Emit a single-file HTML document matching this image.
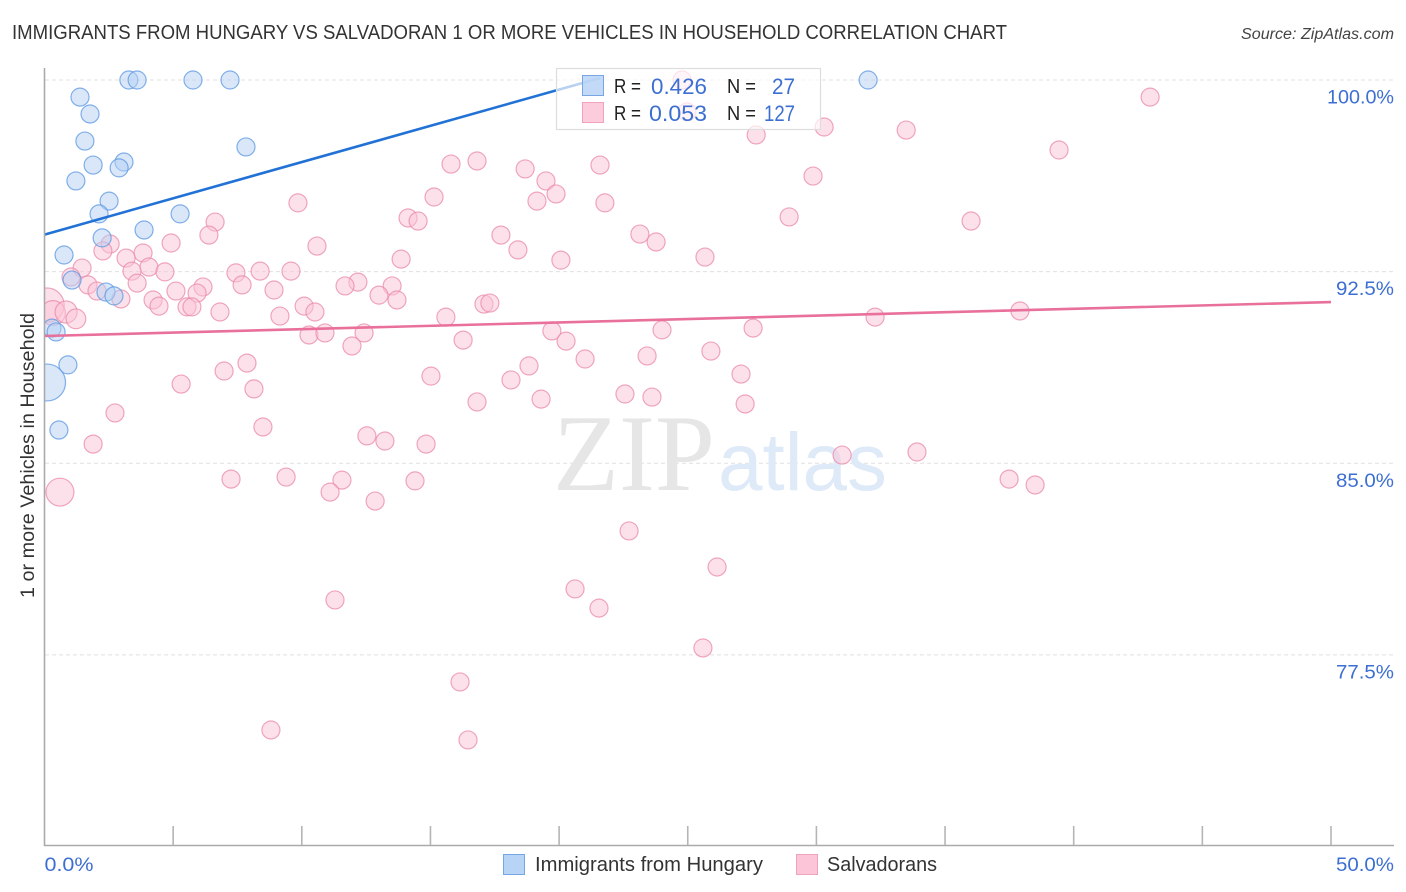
<!DOCTYPE html>
<html lang="en">
<head>
<meta charset="utf-8">
<title>Immigrants from Hungary vs Salvadoran 1 or More Vehicles in Household Correlation Chart</title>
<style>
html,body{margin:0;padding:0;background:#fff;width:1406px;height:892px;overflow:hidden}
svg{display:block;font-family:"Liberation Sans",sans-serif}
</style>
</head>
<body>
<svg id="chart" width="1406" height="892" viewBox="0 0 1406 892" xmlns="http://www.w3.org/2000/svg">
  <defs>
    <clipPath id="plot-clip"><rect x="45" y="60" width="1350" height="785"/></clipPath>
  </defs>
  <text x="12" y="39" font-size="20" fill="#333" textLength="995" lengthAdjust="spacingAndGlyphs">IMMIGRANTS FROM HUNGARY VS SALVADORAN 1 OR MORE VEHICLES IN HOUSEHOLD CORRELATION CHART</text>
  <text x="1241" y="39" font-size="15.5" font-style="italic" fill="#444" textLength="153" lengthAdjust="spacingAndGlyphs">Source: ZipAtlas.com</text>

  <g id="grid"></g>

  <g>
    <text x="553" y="490" font-family="'Liberation Serif',serif" font-size="109" fill="#e6e6e6" textLength="162" lengthAdjust="spacingAndGlyphs">ZIP</text>
    <text x="718" y="490" font-family="'Liberation Sans',sans-serif" font-size="82" fill="#dfeaf8" textLength="169" lengthAdjust="spacingAndGlyphs">atlas</text>
  </g>

  <g id="points-salvadoran" clip-path="url(#plot-clip)"></g>
  <g id="points-hungary" clip-path="url(#plot-clip)"></g>
  <g id="trends"></g>

  <g id="axes">
    <line x1="44.5" y1="68" x2="44.5" y2="846" stroke="#aaa" stroke-width="1.6"/>
    <line x1="44" y1="845.5" x2="1394" y2="845.5" stroke="#aaa" stroke-width="1.6"/>
  </g>
  <g id="x-ticks"></g>
  <g id="y-labels"></g>

  <text transform="translate(34,598) rotate(-90)" font-size="19.5" fill="#333" textLength="285" lengthAdjust="spacingAndGlyphs">1 or more Vehicles in Household</text>

  <g>
    <rect x="556.5" y="68.5" width="264" height="61" fill="#fff" fill-opacity="0.68" stroke="#ddd" stroke-width="1.2"/>
    <rect x="582.5" y="75.5" width="21" height="20" fill="#b7d3f6" fill-opacity="0.85" stroke="#76a6e4" stroke-width="1"/>
    <rect x="582.5" y="102.5" width="21" height="20" fill="#fcc6d8" fill-opacity="0.9" stroke="#f0a2bb" stroke-width="1"/>
    <g font-size="20.5" fill="#222">
      <text x="614" y="93" textLength="27" lengthAdjust="spacingAndGlyphs">R =</text>
      <text x="727" y="93" textLength="29" lengthAdjust="spacingAndGlyphs">N =</text>
      <text x="614" y="120" textLength="27" lengthAdjust="spacingAndGlyphs">R =</text>
      <text x="727" y="120" textLength="29" lengthAdjust="spacingAndGlyphs">N =</text>
    </g>
    <g font-size="22" fill="#3c6fd1">
      <text x="651" y="94" textLength="56" lengthAdjust="spacingAndGlyphs">0.426</text>
      <text x="772" y="94" textLength="23" lengthAdjust="spacingAndGlyphs">27</text>
      <text x="649" y="121" textLength="58" lengthAdjust="spacingAndGlyphs">0.053</text>
      <text x="764" y="121" textLength="31" lengthAdjust="spacingAndGlyphs">127</text>
    </g>
  </g>

  <g>
    <rect x="503.5" y="854.5" width="21" height="20" fill="#b7d3f6" stroke="#76a6e4" stroke-width="1"/>
    <text x="535" y="871" font-size="20" fill="#333" textLength="228" lengthAdjust="spacingAndGlyphs">Immigrants from Hungary</text>
    <rect x="796.5" y="854.5" width="21" height="20" fill="#fcc6d8" stroke="#f0a2bb" stroke-width="1"/>
    <text x="827" y="871" font-size="20" fill="#333" textLength="110" lengthAdjust="spacingAndGlyphs">Salvadorans</text>
  </g>
</svg>
<script>
var yGridValues = [100, 92.5, 85, 77.5];
var yTickLabels = ["100.0%", "92.5%", "85.0%", "77.5%"];
var xTickValues = [5, 10, 15, 20, 25, 30, 35, 40, 45, 50];
var xEndValues = [0, 50];
var xEndLabels = ["0.0%", "50.0%"];

var hungaryX = [0.10,3.28,3.60,5.77,7.21,32.01,1.38,1.77,1.57,7.83,1.89,3.09,2.90,1.22,2.51,2.12,5.27,3.87,2.24,0.76,1.07,2.39,2.70,0.29,0.45,0.91,0.56];
var hungaryY = [88.16,100,100,100,100,100,99.33,98.67,97.61,97.38,96.67,96.79,96.56,96.05,95.26,94.76,94.76,94.13,93.82,93.15,92.17,91.70,91.55,90.29,90.14,88.85,86.30];
var hungaryWeights = [4.2];

var salvadoranX = [0.10,0.33,0.84,1.22,0.60,42.97,30.30,33.49,27.66,39.43,15.80,16.81,21.59,18.68,29.87,19.49,19.88,19.14,15.14,9.85,21.78,28.94,36.01,14.13,14.52,6.63,6.39,23.14,17.74,23.77,4.92,10.59,2.55,2.27,18.40,3.83,25.67,20.07,13.86,3.17,1.46,4.06,3.40,4.68,7.44,8.38,9.58,1.03,3.60,1.69,7.68,6.16,2.04,5.11,8.92,12.18,11.68,13.51,13.00,13.70,5.93,2.97,4.22,4.45,5.54,5.73,10.09,10.51,6.82,9.15,17.08,17.31,15.60,37.91,32.28,24.00,27.54,19.72,12.42,10.28,10.90,20.27,11.95,16.27,25.90,23.42,21.01,7.87,6.98,18.83,15.02,27.07,18.13,5.31,8.14,22.56,23.61,19.30,16.81,27.23,2.74,8.49,12.53,13.23,14.83,1.89,31.00,33.91,7.25,9.39,11.56,14.40,11.10,12.85,37.49,38.50,22.72,26.14,20.62,21.55,11.29,25.59,16.15,8.80,16.46,24.78,24.97];
var salvadoranY = [91.19,90.88,90.92,90.65,83.87,99.33,98.16,98.04,97.85,97.26,96.71,96.83,96.67,96.52,96.24,96.05,95.54,95.26,95.42,95.19,95.19,94.64,94.48,94.60,94.48,94.44,93.93,93.97,93.93,93.66,93.62,93.50,93.58,93.31,93.35,93.23,93.07,92.95,92.99,93.03,92.64,92.68,92.52,92.49,92.45,92.52,92.52,92.29,92.05,91.98,91.98,91.90,91.74,91.74,91.78,92.09,91.94,91.94,91.58,91.39,91.66,91.43,91.39,91.15,91.12,91.12,91.15,90.92,90.92,90.76,91.23,91.27,90.72,90.96,90.72,90.22,90.29,90.18,90.10,90.02,90.10,89.78,89.59,89.82,89.39,89.20,89.08,88.92,88.61,88.81,88.41,88.49,88.26,88.10,87.91,87.71,87.59,87.51,87.40,87.32,86.97,86.42,86.07,85.87,85.75,85.75,85.32,85.44,84.38,84.46,84.34,84.31,83.87,83.52,84.38,84.15,82.35,80.94,80.08,79.33,79.65,77.77,76.44,74.56,74.17,100,98.75];
var salvadoranWeights = [3.6,1.9,1.5,1.2,2.4];

var hungaryTrendX = [0, 21.6];
var hungaryTrendY = [93.95, 100.08];
var salvadoranTrendX = [0, 50];
var salvadoranTrendY = [89.98, 91.31];

var SVGNS = "http://www.w3.org/2000/svg";
function xScale(v) { return 44.5 + v * 25.73; }
function yScale(v) { return 80 + (100 - v) * 25.55; }
function labelWidth(text) { return text.length * 9 + 13; }
function make(tag, attrs) {
  var el = document.createElementNS(SVGNS, tag);
  for (var k in attrs) { el.setAttribute(k, attrs[k]); }
  return el;
}

var gridGroup = document.getElementById("grid");
var yLabelGroup = document.getElementById("y-labels");
yGridValues.forEach(function (v, i) {
  var line = make("line", {x1: 45, x2: 1394, y1: yScale(v), y2: yScale(v), stroke: "#e0e0e0", "stroke-width": 1, "stroke-dasharray": "4 3"});
  
  
  gridGroup.appendChild(line);
  var label = make("text", {x: 1394, y: yScale(v) + 23.5, "font-size": 19.5, fill: "#3c6fd1", "text-anchor": "end", textLength: labelWidth(yTickLabels[i]), lengthAdjust: "spacingAndGlyphs"});
  
  
  label.textContent = yTickLabels[i];
  yLabelGroup.appendChild(label);
});

var xTickGroup = document.getElementById("x-ticks");
xTickValues.forEach(function (v) {
  var tick = make("line", {x1: xScale(v), x2: xScale(v), y1: 826, y2: 845, stroke: "#b5b5b5", "stroke-width": 1.6});
  
  
  xTickGroup.appendChild(tick);
});
xEndValues.forEach(function (v, i) {
  var label = make("text", {x: i === 0 ? xScale(v) : 1394, y: 871, "font-size": 19.5, fill: "#3c6fd1", "text-anchor": i === 0 ? "start" : "end", textLength: labelWidth(xEndLabels[i]), lengthAdjust: "spacingAndGlyphs"});
  
  
  label.textContent = xEndLabels[i];
  xTickGroup.appendChild(label);
});

function drawPoints(groupId, xs, ys, weights, fill, stroke, name) {
  var group = document.getElementById(groupId);
  xs.forEach(function (x, i) {
    var w = weights[i] === undefined ? 1 : weights[i];
    var c = make("circle", {cx: xScale(x), cy: yScale(ys[i]), r: 9 * Math.sqrt(w), fill: fill, "fill-opacity": 0.5, stroke: stroke, "stroke-opacity": 0.75, "stroke-width": 1.2});
    
    
    group.appendChild(c);
  });
}
drawPoints("points-salvadoran", salvadoranX, salvadoranY, salvadoranWeights, "#fbc3d5", "#e98aa9", "salvadoran-point");
drawPoints("points-hungary", hungaryX, hungaryY, hungaryWeights, "#b3cff3", "#5b97e2", "hungary-point");

var trendGroup = document.getElementById("trends");
var hungaryLine = make("line", {x1: xScale(hungaryTrendX[0]), y1: yScale(hungaryTrendY[0]), x2: xScale(hungaryTrendX[1]), y2: yScale(hungaryTrendY[1]), stroke: "#2272d6", "stroke-width": 2.6});


trendGroup.appendChild(hungaryLine);
var salvadoranLine = make("line", {x1: xScale(salvadoranTrendX[0]), y1: yScale(salvadoranTrendY[0]), x2: xScale(salvadoranTrendX[1]), y2: yScale(salvadoranTrendY[1]), stroke: "#e8709b", "stroke-width": 2.6});


trendGroup.appendChild(salvadoranLine);
</script>
</body>
</html>
